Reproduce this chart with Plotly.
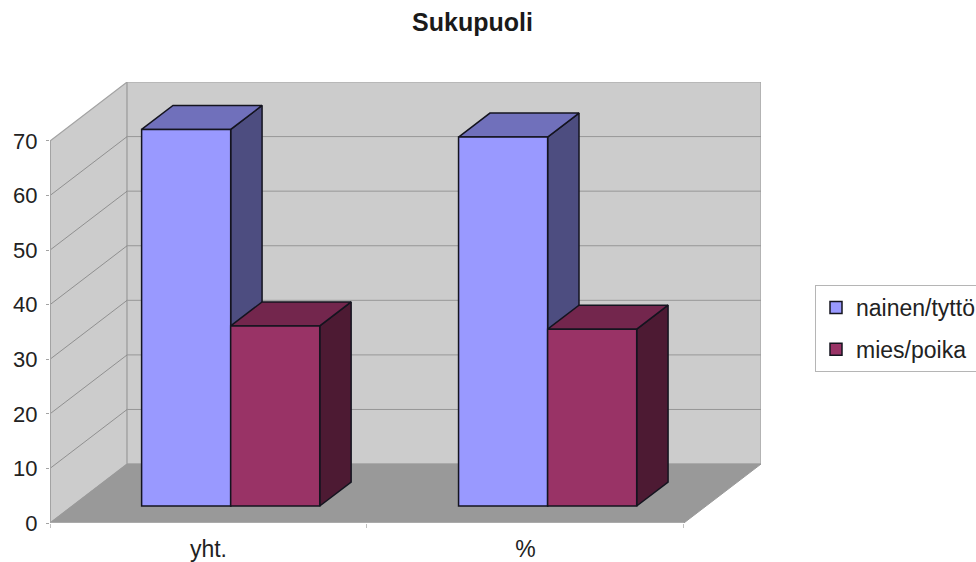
import plotly.graph_objects as go

# Chart data
categories = ["yht.", "%"]
series_names = ["nainen/tyttö", "mies/poika"]
nainen_values = [69, 67.6]
mies_values = [33, 32.4]
y_ticks = [0, 10, 20, 30, 40, 50, 60, 70]

# Colours of each series: front, top and side faces
nainen_colors = ("#9999ff", "#7070bb", "#4d4d80")
mies_colors = ("#993366", "#73264d", "#4d1a33")
edge = "#14141f"
wall = "#cccccc"
floor = "#999999"
wall_edge = "#a3a3a3"
grid = "#979797"

# Oblique projection of the depth axis, in axis units
depth_x = 0.2433
depth_y = 10.8
bar_front = 0.288
bar_back = 0.695
bar_width = 0.281
x_max = 2 + depth_x
y_max = 70 + depth_y


def path(points):
    return "M" + " L".join(f"{x},{y}" for x, y in points) + " Z"


def poly_shape(points, fill, line=None, width=1):
    return dict(type="path", path=path(points), xref="x", yref="y", layer="below",
                fillcolor=fill, line=dict(color=line or fill, width=width))


def line_shape(x0, y0, x1, y1, color, width=1):
    return dict(type="line", x0=x0, y0=y0, x1=x1, y1=y1, xref="x", yref="y",
                layer="below", line=dict(color=color, width=width))


n = len(categories)
shapes = [
    # Left wall, back wall and floor of the box
    poly_shape([(0, 0), (depth_x, depth_y), (depth_x, y_max), (0, 70)], wall, wall_edge, 1.2),
    poly_shape([(depth_x, depth_y), (x_max, depth_y), (x_max, y_max), (depth_x, y_max)], wall, wall_edge, 1.2),
    poly_shape([(0, 0), (n, 0), (x_max, depth_y), (depth_x, depth_y)], floor, floor, 1),
]
for t in y_ticks[1:-1]:
    shapes.append(line_shape(0, t, depth_x, t + depth_y, "#808080", 0.8))
    shapes.append(line_shape(depth_x, t + depth_y, x_max, t + depth_y, grid, 1))
shapes.append(line_shape(0, 0, n, 0, "#b0b0b0", 1.5))
shapes.append(line_shape(0, 0, 0, 70, wall_edge, 2))

fig = go.Figure()
offset = bar_front * depth_x + 0.5
base = bar_front * depth_y
front_dx = (bar_back - bar_front) * depth_x
front_dy = (bar_back - bar_front) * depth_y


def faces(values, side):
    """Outline the top and side faces of one series' bars."""
    tx, ty, sx, sy = [], [], [], []
    for i, v in enumerate(values):
        left = i + offset + (side - 1) * bar_width
        right = left + bar_width
        top = base + v
        tx += [left, right, right + front_dx, left + front_dx, left, None]
        ty += [top, top, top + front_dy, top + front_dy, top, None]
        sx += [right, right + front_dx, right + front_dx, right, right, None]
        sy += [top, top + front_dy, base + front_dy, base, top, None]
    return tx, ty, sx, sy


for side, (values, colors) in enumerate([(nainen_values, nainen_colors), (mies_values, mies_colors)]):
    tx, ty, sx, sy = faces(values, side)
    for fx, fy, color in [(sx, sy, colors[2]), (tx, ty, colors[1])]:
        fig.add_trace(go.Scatter(x=fx, y=fy, mode="lines", fill="toself", fillcolor=color,
                                 line=dict(color=edge, width=1.5), showlegend=False,
                                 hoverinfo="skip", xaxis="x", yaxis="y"))

# Front faces sit on an overlaid pair of axes so they cover the side faces
for name, values, colors in [(series_names[0], nainen_values, nainen_colors),
                             (series_names[1], mies_values, mies_colors)]:
    fig.add_trace(go.Bar(name=name, legendgroup=name,
                         x=[i + offset for i in range(n)], y=values, base=base,
                         marker=dict(color=colors[0], line=dict(color=edge, width=1.5)),
                         xaxis="x2", yaxis="y2"))

font = "Liberation Sans, Arial, sans-serif"
fig.update_layout(
    width=976, height=562,
    margin=dict(l=50, r=215, t=82, b=39, autoexpand=False),
    paper_bgcolor="white", plot_bgcolor="rgba(0,0,0,0)",
    font=dict(family=font, size=22, color="#222222"),
    barmode="group", bargap=1 - 2 * bar_width,
    shapes=shapes,
    title=dict(text="<b>Sukupuoli</b>", x=472.5 / 976, xanchor="center", y=1 - 22 / 562,
               yanchor="middle", font=dict(size=25, color="#1a1a1a")),
    xaxis=dict(range=[0, x_max], tickmode="array", tickvals=[i + 0.5 for i in range(n)],
               ticktext=categories, ticks="", showgrid=False, zeroline=False, showline=False,
               tickfont=dict(size=23), ticklabelstandoff=10,
               minor=dict(tickmode="array", tickvals=list(range(n + 1)), ticks="outside",
                          ticklen=4, tickcolor="#c0c0c0", showgrid=False)),
    yaxis=dict(range=[0, y_max], tickmode="array", tickvals=y_ticks, ticks="outside",
               ticklen=3, tickcolor=wall_edge, showgrid=False, zeroline=False, showline=False,
               ticklabelstandoff=4),
    xaxis2=dict(range=[0, x_max], overlaying="x", visible=False),
    yaxis2=dict(range=[0, y_max], overlaying="y", visible=False),
    legend=dict(x=(815 - 50) / 711, xanchor="left", y=(523 - 285) / 441, yanchor="top",
                bordercolor="#b5b5b5", borderwidth=1, bgcolor="white",
                traceorder="grouped", tracegroupgap=9,
                font=dict(size=23, color="#222222")),
)

fig.write_html("out.html")
